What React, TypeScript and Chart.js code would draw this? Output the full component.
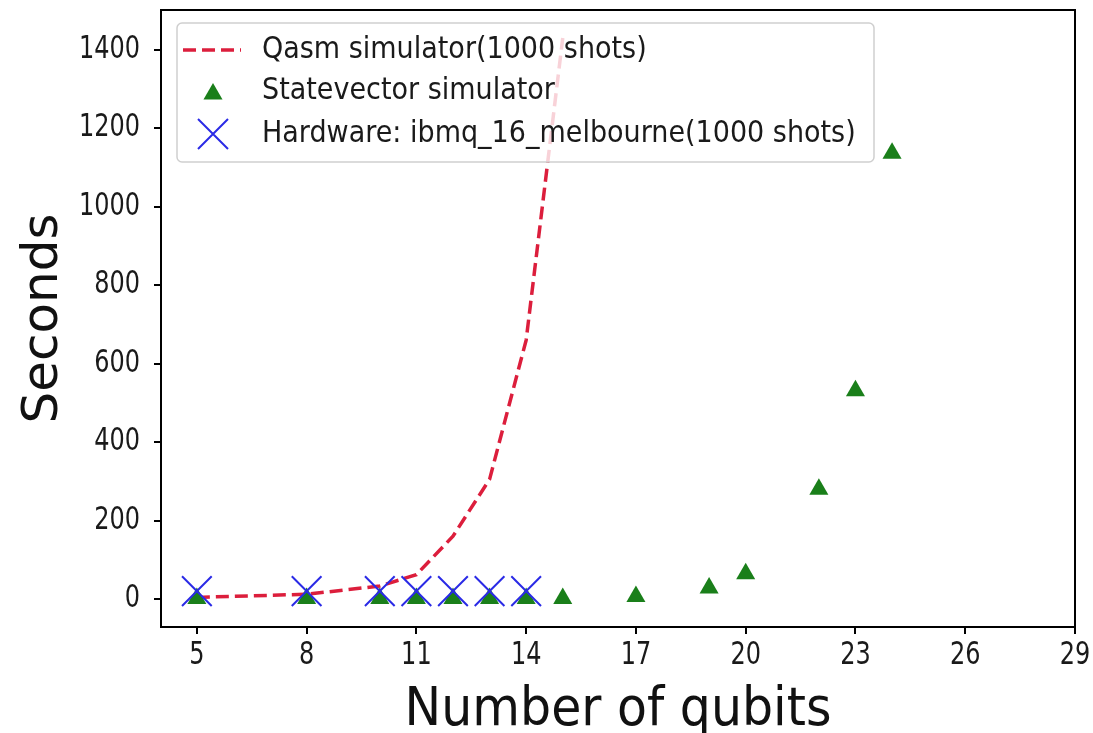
import React, { useEffect, useRef } from "react";
import { Chart, registerables } from "chart.js";

Chart.register(...registerables);

// ---- data ----
const xTickValues = [5, 8, 11, 14, 17, 20, 23, 26, 29];
const yTickValues = [0, 200, 400, 600, 800, 1000, 1200, 1400];

const qasmQubits = [5, 8, 10, 11, 12, 13, 14, 15];
const qasmSeconds = [4, 12, 33, 62, 160, 305, 660, 1430];

const svQubits = [5, 8, 10, 11, 12, 13, 14, 15, 17, 19, 20, 22, 23, 24];
const svSeconds = [1, 1, 1, 1, 1, 1, 1, 1, 6, 28, 64, 280, 531, 1136];

const hwQubits = [5, 8, 10, 11, 12, 13, 14];
const hwSeconds = [20, 20, 20, 20, 20, 20, 20];

const legendLabels = [
  "Qasm simulator(1000 shots)",
  "Statevector simulator",
  "Hardware: ibmq_16_melbourne(1000 shots)",
];
const xTitle = "Number of qubits";
const yTitle = "Seconds";

const RED = "#dc1e3c";
const GREEN = "#1a7f1a";
const BLUE = "#2a2ae6";
const FONT = "'DejaVu Sans', sans-serif";

function drawScaledText(ctx: CanvasRenderingContext2D, text: string, x: number, y: number, sy: number) {
  ctx.save();
  ctx.translate(x, y);
  ctx.scale(1, sy);
  ctx.fillText(text, 0, 0);
  ctx.restore();
}

const decorPlugin = {
  id: "decor",
  afterDraw(chart: any) {
    const { ctx, chartArea, scales } = chart;
    const xs = scales.x;
    const ys = scales.y;
    ctx.save();
    // frame
    ctx.strokeStyle = "#000";
    ctx.lineWidth = 2;
    ctx.strokeRect(chartArea.left, chartArea.top, chartArea.right - chartArea.left, chartArea.bottom - chartArea.top);

    // tick labels
    ctx.fillStyle = "#1a1a1a";
    ctx.font = `24px ${FONT}`;
    ctx.textAlign = "right";
    ctx.textBaseline = "middle";
    yTickValues.forEach((v) => {
      drawScaledText(ctx, String(v), 140, ys.getPixelForValue(v), 1.3);
    });
    ctx.textAlign = "center";
    xTickValues.forEach((v) => {
      drawScaledText(ctx, String(v), xs.getPixelForValue(v), 656, 1.3);
    });

    // axis titles
    ctx.fillStyle = "#111";
    ctx.font = `49px ${FONT}`;
    ctx.textAlign = "center";
    ctx.textBaseline = "alphabetic";
    drawScaledText(ctx, xTitle, (chartArea.left + chartArea.right) / 2, 725, 1.07);
    ctx.save();
    ctx.translate(57, (chartArea.top + chartArea.bottom) / 2);
    ctx.rotate(-Math.PI / 2);
    ctx.font = `50px ${FONT}`;
    ctx.fillText(yTitle, 0, 0);
    ctx.restore();

    // legend box
    const bx = 177, by = 23, bw = 697, bh = 139;
    ctx.beginPath();
    (ctx as any).roundRect(bx, by, bw, bh, 5);
    ctx.fillStyle = "rgba(255,255,255,0.8)";
    ctx.fill();
    ctx.strokeStyle = "#cfcfcf";
    ctx.lineWidth = 1.5;
    ctx.stroke();

    const rowY = [50, 91, 134];
    // handle 1: dashed line
    ctx.strokeStyle = RED;
    ctx.lineWidth = 3.5;
    ctx.setLineDash([13, 6]);
    ctx.beginPath();
    ctx.moveTo(183, rowY[0]);
    ctx.lineTo(241, rowY[0]);
    ctx.stroke();
    ctx.setLineDash([]);
    // handle 2: triangle
    const r = 11;
    const tcx = 213, tcy = rowY[1] + 3;
    ctx.fillStyle = GREEN;
    ctx.beginPath();
    ctx.moveTo(tcx, tcy - r);
    ctx.lineTo(tcx + r * Math.sin((2 * Math.PI) / 3), tcy - r * Math.cos((2 * Math.PI) / 3));
    ctx.lineTo(tcx + r * Math.sin((4 * Math.PI) / 3), tcy - r * Math.cos((4 * Math.PI) / 3));
    ctx.closePath();
    ctx.fill();
    // handle 3: X
    const xr = 15;
    ctx.strokeStyle = BLUE;
    ctx.lineWidth = 2;
    ctx.beginPath();
    ctx.moveTo(213 - xr, rowY[2] - xr);
    ctx.lineTo(213 + xr, rowY[2] + xr);
    ctx.moveTo(213 - xr, rowY[2] + xr);
    ctx.lineTo(213 + xr, rowY[2] - xr);
    ctx.stroke();

    ctx.fillStyle = "#1a1a1a";
    ctx.font = `27px ${FONT}`;
    ctx.textAlign = "left";
    ctx.textBaseline = "middle";
    legendLabels.forEach((t, i) => drawScaledText(ctx, t, 262, rowY[i], 1.1));
    ctx.restore();
  },
};

export default function App() {
  const ref = useRef<HTMLCanvasElement | null>(null);
  useEffect(() => {
    if (!ref.current) return;
    const chart = new Chart(ref.current, {
      type: "scatter",
      data: {
        datasets: [
          {
            type: "line",
            label: legendLabels[0],
            data: qasmQubits.map((q, i) => ({ x: q, y: qasmSeconds[i] })),
            borderColor: RED,
            borderWidth: 3.5,
            borderDash: [13, 6],
            pointRadius: 0,
            fill: false,
            tension: 0,
            order: 2,
          } as any,
          {
            label: legendLabels[1],
            data: svQubits.map((q, i) => ({ x: q, y: svSeconds[i] })),
            pointStyle: "triangle",
            pointRadius: 11,
            backgroundColor: GREEN,
            borderColor: GREEN,
            borderWidth: 0,
            order: 1,
          },
          {
            label: legendLabels[2],
            data: hwQubits.map((q, i) => ({ x: q, y: hwSeconds[i] })),
            pointStyle: "crossRot",
            pointRadius: 21,
            borderColor: BLUE,
            borderWidth: 2,
            backgroundColor: BLUE,
            order: 0,
          },
        ],
      },
      options: {
        animation: false,
        responsive: false,
        devicePixelRatio: 1,
        layout: { autoPadding: false, padding: { top: 10, right: 18, left: 0, bottom: 0 } },
        plugins: { legend: { display: false }, tooltip: { enabled: false }, title: { display: false } },
        scales: {
          x: {
            type: "linear",
            min: 4.02,
            max: 29,
            ticks: { display: false },
            grid: { drawOnChartArea: false, drawTicks: true, tickLength: 7, color: "#000", lineWidth: 2 },
            border: { display: true, color: "#000", width: 2 },
            afterBuildTicks: (s: any) => {
              s.ticks = xTickValues.map((v) => ({ value: v }));
            },
            afterFit: (s: any) => {
              s.height = 106;
            },
          },
          y: {
            type: "linear",
            min: -71.5,
            max: 1501.5,
            ticks: { display: false },
            grid: { drawOnChartArea: false, drawTicks: true, tickLength: 7, color: "#000", lineWidth: 2 },
            border: { display: true, color: "#000", width: 2 },
            afterBuildTicks: (s: any) => {
              s.ticks = yTickValues.map((v) => ({ value: v }));
            },
            afterFit: (s: any) => {
              s.width = 161;
            },
          },
        },
      },
      plugins: [decorPlugin],
    });
    return () => chart.destroy();
  }, []);
  return (
    <div style={{ position: "absolute", left: 0, top: 0, width: 1093, height: 733, background: "#fff" }}>
      <canvas ref={ref} width={1093} height={733} />
    </div>
  );
}
